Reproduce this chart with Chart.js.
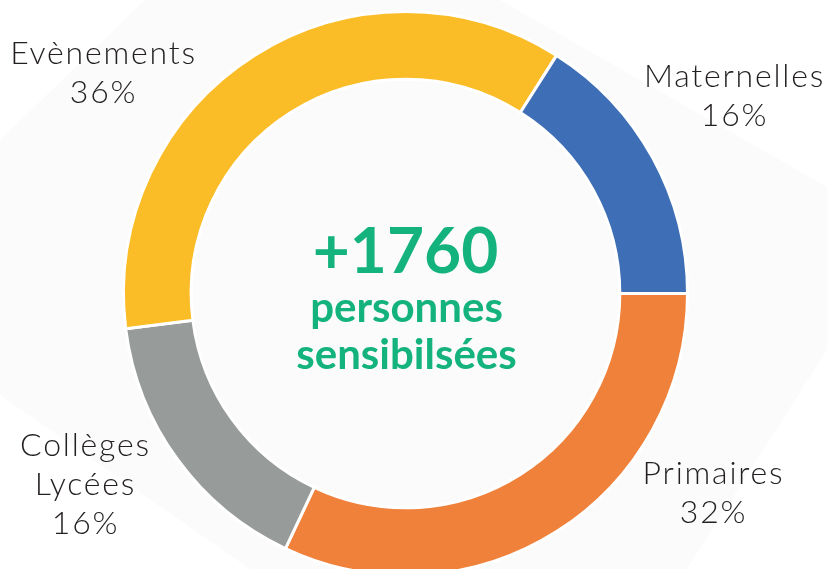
<!DOCTYPE html>
<html>
<head>
<meta charset="utf-8">
<script src="https://cdn.jsdelivr.net/npm/chart.js@4.4.1/dist/chart.umd.min.js"></script>
<style>
  html, body { margin: 0; padding: 0; background: #ffffff; overflow: hidden; }
  #wrap { position: relative; width: 827px; height: 569px; overflow: hidden; }
  #bgShape {
    position: absolute; left: 0; top: 0; width: 827px; height: 569px; background: #fbfbfb;
    clip-path: polygon(145px 0, 500px 0, 827px 187px, 827px 350px, 687px 569px, 250px 569px, 0 395px, 0 140px);
  }
  #chart { position: absolute; left: 0; top: 0; }
</style>
</head>
<body>
<div id="wrap">
  <div id="bgShape"></div>
  <canvas id="chart" width="827" height="600"></canvas>
</div>
<script>
// data, clockwise from 3 o'clock
const categories = [['Primaires'], ['Collèges', 'Lycées'], ['Evènements'], ['Maternelles']];
const shares = [32, 16, 36, 16];
const sliceColors = ['#F0813B', '#979B9A', '#FBBD27', '#3E6FB6'];
const totalPeople = '+1760';
const centerLines = ['personnes', 'sensibilsées'];

// label anchor (first baseline) relative to the ring centre
const labelOffsets = [[307, 190], [-321, 162], [-303, -230], [328, -207]];

const labelPlugin = {
    id: 'sliceLabels',
    afterDraw(chart) {
        const ctx = chart.ctx;
        const arcs = chart.getDatasetMeta(0).data;
        ctx.save();
        ctx.textAlign = 'center';
        ctx.textBaseline = 'alphabetic';
        // centre text
        const cx = arcs[0].x, cy = arcs[0].y;
        ctx.fillStyle = '#14B37D';
        ctx.font = 'bold 64px Lato';
        ctx.fillText(totalPeople, cx, cy - 21);
        ctx.font = 'bold 42px Lato';
        ctx.fillText(centerLines[0], cx + 1, cy + 28);
        ctx.fillText(centerLines[1], cx + 1, cy + 75);
        // slice labels
        ctx.fillStyle = '#231F20';
        ctx.font = '300 32px Lato';
        ctx.letterSpacing = '1.8px';
        arcs.forEach(function (arc, i) {
            const lines = categories[i].concat([shares[i] + '%']);
            const x = arc.x + labelOffsets[i][0] + 1;
            let y = arc.y + labelOffsets[i][1];
            lines.forEach(function (line) {
                ctx.fillText(line, x, y);
                y += 39;
            });
        });
        ctx.restore();
    }
};

new Chart(document.getElementById('chart'), {
    type: 'doughnut',
    data: {
        labels: categories.map(c => c.join(' ')),
        datasets: [{
            data: shares,
            backgroundColor: sliceColors,
            borderColor: '#ffffff',
            borderWidth: 3
        }]
    },
    options: {
        responsive: false,
        animation: false,
        rotation: 90,
        cutout: '76%',
        layout: { padding: { left: 122, right: 138, top: 10, bottom: 23 } },
        plugins: {
            legend: { display: false },
            tooltip: { enabled: false }
        }
    },
    plugins: [labelPlugin]
});
</script>
</body>
</html>
